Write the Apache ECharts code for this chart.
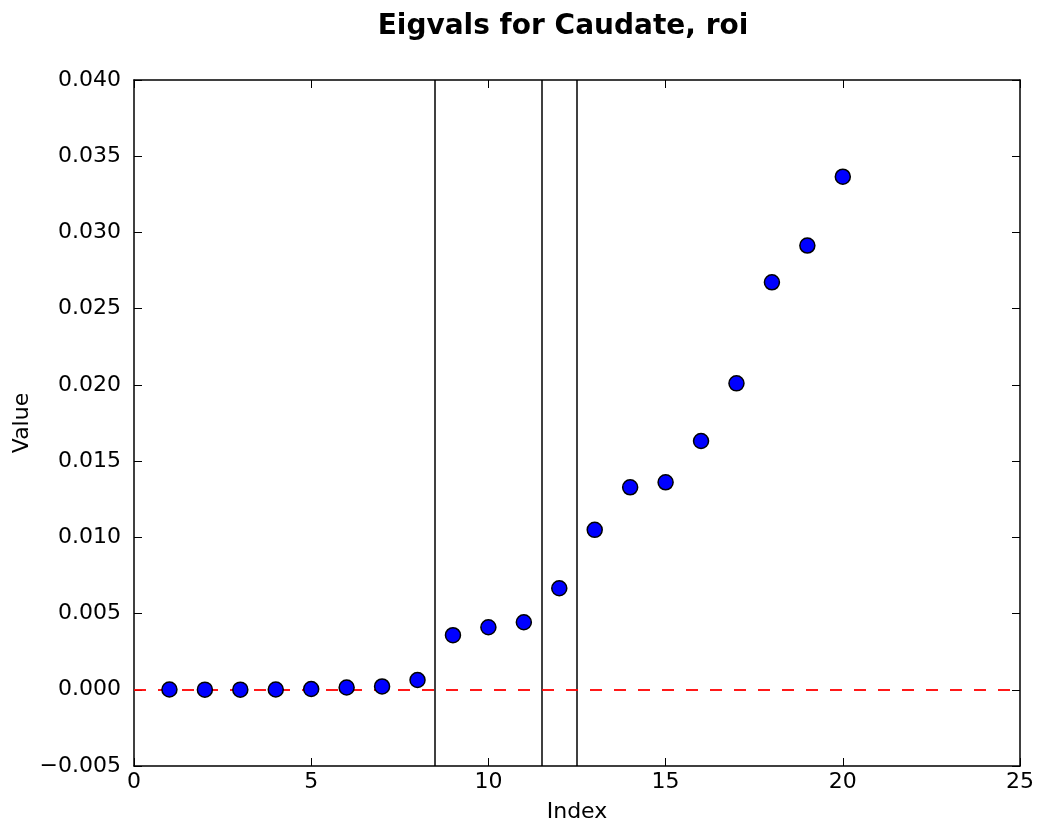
<!DOCTYPE html>
<html>
<head>
<meta charset="utf-8">
<script src="https://cdn.jsdelivr.net/npm/echarts@6/dist/echarts.min.js"></script>
<style>
  html, body { margin: 0; padding: 0; background: #fff; }
  #main { width: 1037px; height: 827px; }
</style>
</head>
<body>
<div id="main"></div>
<script>
// data
var indexes = [1, 2, 3, 4, 5, 6, 7, 8, 9, 10, 11, 12, 13, 14, 15, 16, 17, 18, 19, 20];
var eigvals = [0.00002, 0.00001, 0.00001, 0.00002, 0.00005, 0.00015, 0.00022, 0.00064,
               0.00358, 0.00410, 0.00443, 0.00666, 0.01049, 0.01328, 0.01361, 0.01632,
               0.02010, 0.02673, 0.02914, 0.03366];
var splitLines = [8.5, 11.5, 12.5];
var zeroLine = 0;

var font = 'DejaVu Sans';

var myChart = echarts.init(document.getElementById('main'));

var points = indexes.map(function (x, i) { return [x, eigvals[i]]; });

var tickStyle = { show: true, inside: true, length: 8, lineStyle: { color: '#000', width: 1 } };
var lineStyle = { show: true, onZero: false, lineStyle: { color: '#000', width: 1.5 } };

var option = {
    animation: false,
    backgroundColor: '#fff',
    title: {
        text: 'Eigvals for Caudate, roi',
        left: 558,
        top: 8,
        textAlign: 'center',
        textStyle: { fontFamily: font, fontSize: 28, fontWeight: 'bold', color: '#000' }
    },
    grid: { left: 134, right: 17, top: 80, bottom: 61, outerBoundsMode: 'none', containLabel: false },
    xAxis: [
        {
            type: 'value', min: 0, max: 25, interval: 5,
            name: 'Index', nameLocation: 'middle', nameGap: 35, nameMoveOverlap: false,
            nameTextStyle: { fontFamily: font, fontSize: 22, color: '#000' },
            axisLine: lineStyle, axisTick: tickStyle, splitLine: { show: false },
            axisLabel: { fontFamily: font, fontSize: 22, color: '#000', margin: 5 }
        },
        {
            type: 'value', min: 0, max: 25, interval: 5, position: 'top',
            axisLine: lineStyle, axisTick: tickStyle, splitLine: { show: false },
            axisLabel: { show: false }
        }
    ],
    yAxis: [
        {
            type: 'value', min: -0.005, max: 0.04, interval: 0.005,
            name: 'Value', nameLocation: 'middle', nameGap: 101, nameMoveOverlap: false,
            nameTextStyle: { fontFamily: font, fontSize: 22, color: '#000' },
            axisLine: lineStyle, axisTick: tickStyle, splitLine: { show: false },
            axisLabel: {
                fontFamily: font, fontSize: 22, color: '#000', margin: 13,
                formatter: function (v) { return (v < 0 ? '\u2212' : '') + Math.abs(v).toFixed(3); }
            }
        },
        {
            type: 'value', min: -0.005, max: 0.04, interval: 0.005, position: 'right',
            axisLine: lineStyle, axisTick: tickStyle, splitLine: { show: false },
            axisLabel: { show: false }
        }
    ],
    series: [
        {
            type: 'scatter',
            data: points,
            symbolSize: 15,
            itemStyle: { color: '#0000ff', opacity: 1, borderColor: '#000', borderWidth: 1.5 },
            z: 5,
            markLine: {
                silent: true,
                symbol: 'none',
                label: { show: false },
                animation: false,
                data: splitLines.map(function (x) {
                    return { xAxis: x, lineStyle: { color: '#000', width: 1.5, type: 'solid' } };
                }).concat([
                    { yAxis: zeroLine, lineStyle: { color: '#ff0000', width: 1.8, type: [12, 12] } }
                ])
            }
        }
    ]
};

myChart.setOption(option);
</script>
</body>
</html>
